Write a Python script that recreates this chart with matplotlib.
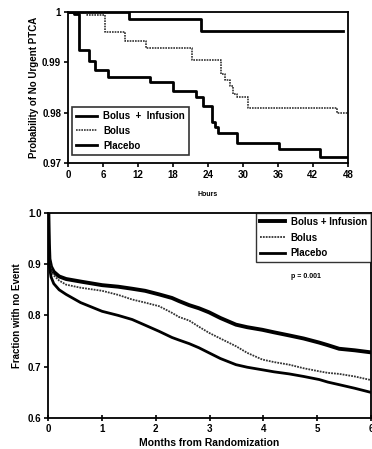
import matplotlib.pyplot as plt

plt.rcParams['font.family'] = ['Liberation Sans', 'DejaVu Sans']
plt.rcParams['font.weight'] = 'bold'
plt.rcParams['axes.labelweight'] = 'bold'

# top panel: hours vs probability of no urgent PTCA (step curves)
hrs_bi = [0, 10.5, 22.8, 47.2]
prob_bi = [1.0, 0.9986, 0.9962, 0.9962]
hrs_bolus = [0, 3.3, 6.4, 9.8, 13.4, 21.3, 26.3, 27.0, 27.8, 28.3, 28.9, 30.9, 46.1, 48]
prob_bolus = [1.0, 0.9994, 0.9961, 0.9943, 0.9929, 0.9904, 0.9876, 0.9866, 0.9854,
              0.9838, 0.9832, 0.9810, 0.9799, 0.9799]
hrs_plac = [0, 1.0, 1.9, 3.6, 4.6, 6.9, 14.0, 18.0, 21.9, 23.2, 24.7, 25.2, 25.7,
            28.9, 36.2, 43.3, 48]
prob_plac = [1.0, 0.9996, 0.9925, 0.9902, 0.9884, 0.9871, 0.9861, 0.9843, 0.9831,
             0.9814, 0.9781, 0.9771, 0.9759, 0.9739, 0.9727, 0.9711, 0.9711]
hour_ticks = [0, 6, 12, 18, 24, 30, 36, 42, 48]
prob_ticks = [0.97, 0.98, 0.99, 1.0]
prob_labels = ['0.97', '0.98', '0.99', '1']

# bottom panel: months vs fraction with no event
months = [0, 0.005, 0.01, 0.02, 0.05, 0.1, 0.2, 0.33, 0.6, 1.0, 1.3, 1.56, 1.8, 2.06,
          2.3, 2.43, 2.62, 2.8, 2.99, 3.2, 3.49, 3.7, 3.98, 4.2, 4.48, 4.75, 5.04,
          5.2, 5.41, 5.7, 6.0]
frac_bi = [1.0, 0.97, 0.94, 0.91, 0.895, 0.885, 0.876, 0.871, 0.866, 0.859, 0.856,
           0.852, 0.848, 0.841, 0.834, 0.828, 0.82, 0.814, 0.806, 0.795, 0.782, 0.777,
           0.772, 0.767, 0.761, 0.755, 0.747, 0.742, 0.735, 0.732, 0.728]
frac_bolus = [1.0, 0.97, 0.94, 0.905, 0.89, 0.878, 0.868, 0.86, 0.854, 0.848, 0.84,
              0.831, 0.825, 0.818, 0.805, 0.797, 0.79, 0.778, 0.766, 0.755, 0.740,
              0.727, 0.714, 0.709, 0.704, 0.697, 0.691, 0.688, 0.686, 0.681, 0.674]
frac_plac = [1.0, 0.96, 0.93, 0.895, 0.875, 0.862, 0.85, 0.841, 0.825, 0.808, 0.80,
             0.792, 0.781, 0.769, 0.757, 0.752, 0.745, 0.737, 0.727, 0.716, 0.704,
             0.699, 0.694, 0.690, 0.686, 0.681, 0.675, 0.670, 0.665, 0.658, 0.650]
month_ticks = [0, 1, 2, 3, 4, 5, 6]
frac_ticks = [0.6, 0.7, 0.8, 0.9, 1.0]

labels = ['Bolus  +  Infusion', 'Bolus', 'Placebo']

fig = plt.figure(figsize=(3.72, 4.49), dpi=100)

# --- top chart
ax1 = fig.add_axes([0.183, 0.637, 0.752, 0.336])
ax1.step(hrs_bi, prob_bi, where='post', color='black', lw=2.0, label=labels[0])
ax1.step(hrs_bolus, prob_bolus, where='post', color='#333333', lw=1.2, ls=(0, (1, 0.6)), label=labels[1])
ax1.step(hrs_plac, prob_plac, where='post', color='black', lw=2.0, label=labels[2])
ax1.set_xlim(0, 48)
ax1.set_ylim(0.97, 1.0)
ax1.set_xticks(hour_ticks)
ax1.set_yticks(prob_ticks)
ax1.set_yticklabels(prob_labels)
ax1.tick_params(labelsize=7, length=3, width=1.2, pad=2)
ax1.set_xlabel('Hours', fontsize=5, labelpad=8)
ax1.set_ylabel('Probability of No Urgent PTCA', fontsize=7, labelpad=2)
for s in ax1.spines.values():
    s.set_linewidth(1.3)
leg1 = ax1.legend(loc='lower left', fontsize=7, frameon=True, fancybox=False,
                  edgecolor='black', handlelength=2.2, handletextpad=0.6,
                  borderaxespad=0.4, labelspacing=0.5, bbox_to_anchor=(0.0, 0.03))
leg1.get_frame().set_linewidth(1.2)

# --- bottom chart
ax2 = fig.add_axes([0.130, 0.069, 0.867, 0.457])
ax2.plot(months, frac_bi, color='black', lw=2.8, label=labels[0].replace('  ', ' '))
ax2.plot(months, frac_bolus, color='#333333', lw=1.3, ls=(0, (1, 0.6)), label=labels[1])
ax2.plot(months, frac_plac, color='black', lw=2.0, label=labels[2])
ax2.set_xlim(0, 6)
ax2.set_ylim(0.6, 1.0)
ax2.set_xticks(month_ticks)
ax2.set_yticks(frac_ticks)
ax2.tick_params(axis='y', labelsize=7, length=3, width=1.2, pad=2)
ax2.tick_params(axis='x', labelsize=7, length=4, width=1.2, pad=2, direction='inout')
ax2.set_xlabel('Months from Randomization', fontsize=7.5, labelpad=3)
ax2.set_ylabel('Fraction with no Event', fontsize=7, labelpad=4)
for s in ax2.spines.values():
    s.set_linewidth(1.3)
leg2 = ax2.legend(loc='upper right', fontsize=7, frameon=True, fancybox=False,
                  edgecolor='black', handlelength=2.6, handletextpad=0.6,
                  borderaxespad=0.0, labelspacing=0.6)
leg2.get_frame().set_linewidth(1.0)
ax2.text(0.8, 0.69, 'p = 0.001', transform=ax2.transAxes, fontsize=5, ha='center', va='center')

fig.savefig('out.png', dpi=100)
